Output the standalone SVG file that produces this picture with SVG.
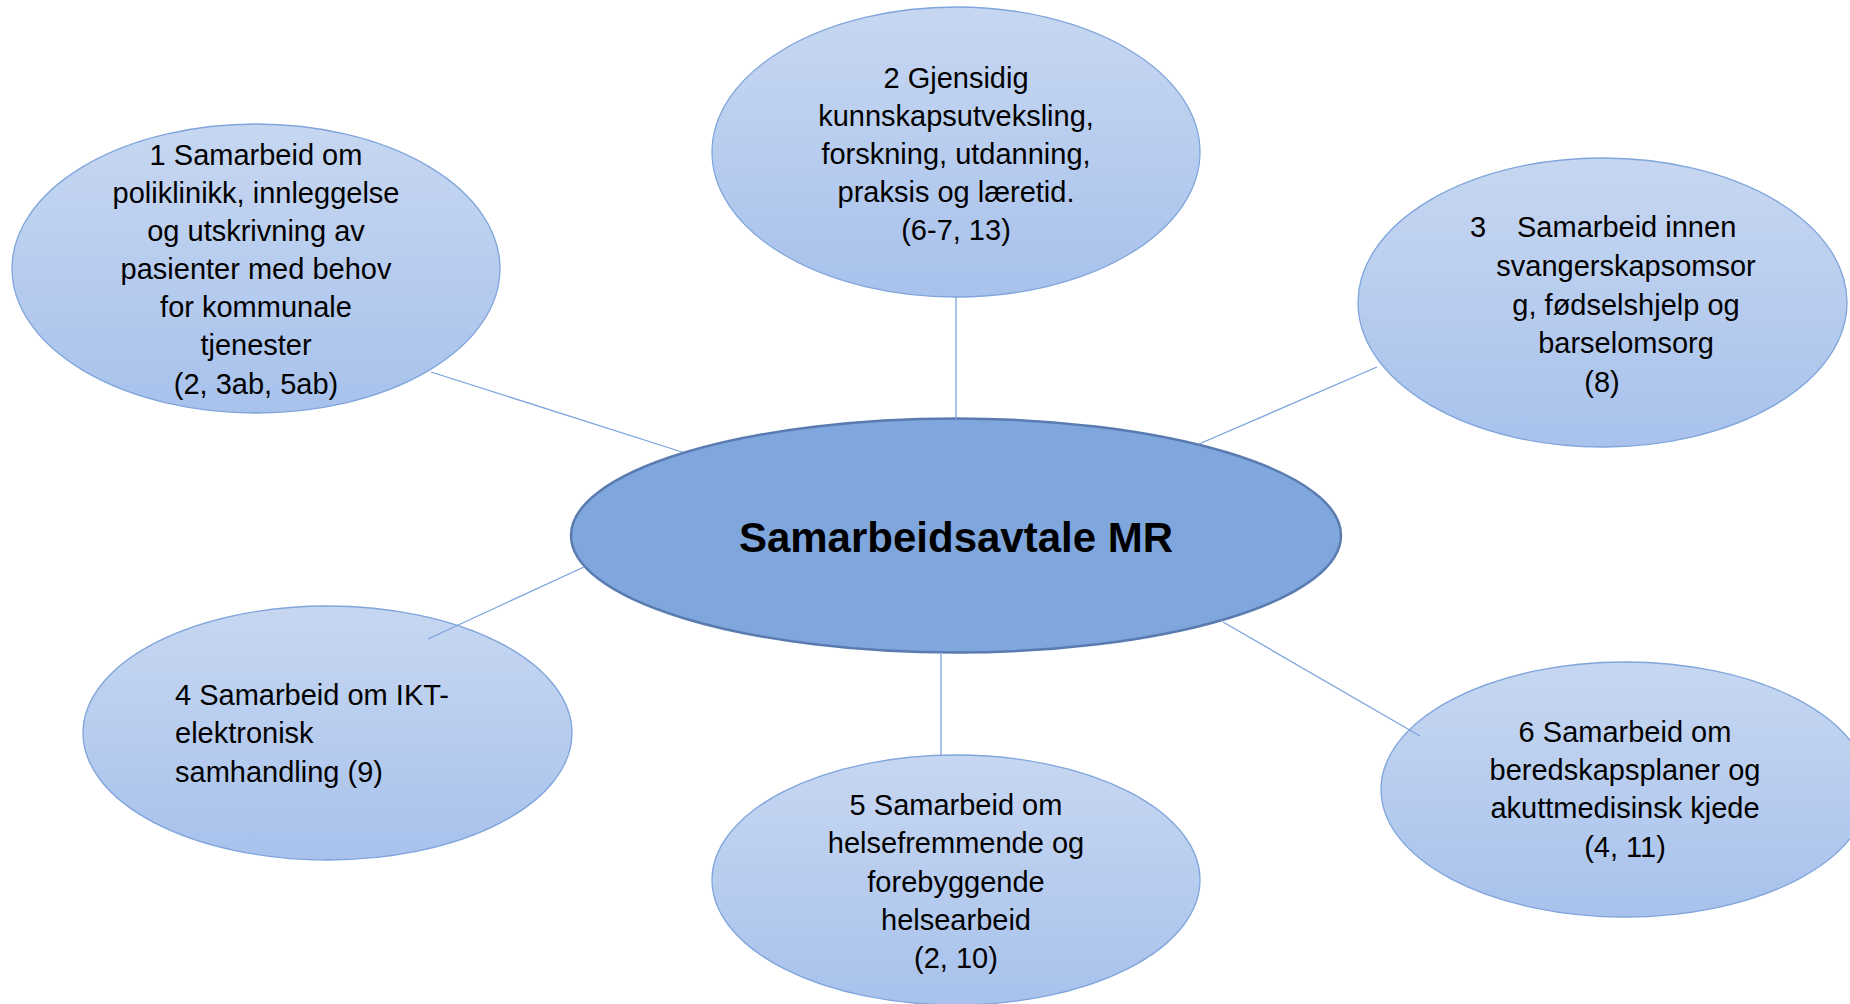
<svg xmlns="http://www.w3.org/2000/svg" width="1850" height="1004" viewBox="0 0 1850 1004">
<defs>
<linearGradient id="g" x1="0" y1="0" x2="0" y2="1">
<stop offset="0" stop-color="#c7d7f1"/>
<stop offset="1" stop-color="#a8c2ec"/>
</linearGradient>
</defs>
<style>
.n{fill:url(#g);stroke:#7fa5dc;stroke-width:1.3}
.c{fill:#7fa7de;stroke:#5a7bb0;stroke-width:2.5}
.t{font-family:"Liberation Sans",Arial,sans-serif;font-size:29px;fill:#000;text-anchor:middle}
.l{text-anchor:start}
.b{font-family:"Liberation Sans",Arial,sans-serif;font-size:42px;font-weight:bold;fill:#000;text-anchor:middle}
.e{stroke:#7ba3dc;stroke-width:1.3;fill:none}
</style>
<rect width="1850" height="1004" fill="#fff"/>
<g id="node1">
<ellipse class="n" cx="256" cy="268.5" rx="244" ry="144.5"/>
<text class="t"><tspan x="256" y="165">1 Samarbeid om</tspan><tspan x="256" y="203">poliklinikk, innleggelse</tspan><tspan x="256" y="241">og utskrivning av</tspan><tspan x="256" y="279">pasienter med behov</tspan><tspan x="256" y="317">for kommunale</tspan><tspan x="256" y="355">tjenester</tspan><tspan x="256" y="394">(2, 3ab, 5ab)</tspan></text>
</g>
<g id="node2">
<ellipse class="n" cx="956" cy="152" rx="244" ry="145"/>
<text class="t"><tspan x="956" y="88">2 Gjensidig</tspan><tspan x="956" y="126">kunnskapsutveksling,</tspan><tspan x="956" y="164">forskning, utdanning,</tspan><tspan x="956" y="202">praksis og læretid.</tspan><tspan x="956" y="240">(6-7, 13)</tspan></text>
</g>
<g id="node3">
<ellipse class="n" cx="1602.5" cy="302.5" rx="244.5" ry="144.5"/>
<text class="t l" x="1470" y="237">3</text>
<text class="t l" x="1517" y="237">Samarbeid innen</text>
<text class="t"><tspan x="1626" y="276">svangerskapsomsor</tspan><tspan x="1626" y="315">g, fødselshjelp og</tspan><tspan x="1626" y="353">barselomsorg</tspan><tspan x="1602" y="392">(8)</tspan></text>
</g>
<g id="center">
<ellipse class="c" cx="956" cy="535.5" rx="385" ry="117"/>
<text class="b" x="956" y="552">Samarbeidsavtale MR</text>
</g>
<g id="node4">
<ellipse class="n" cx="327.5" cy="733" rx="244.5" ry="127"/>
<text class="t l"><tspan x="175" y="705">4 Samarbeid om IKT-</tspan><tspan x="175" y="743">elektronisk</tspan><tspan x="175" y="782">samhandling (9)</tspan></text>
</g>
<g id="node5">
<ellipse class="n" cx="956" cy="880" rx="244" ry="125"/>
<text class="t"><tspan x="956" y="815">5 Samarbeid om</tspan><tspan x="956" y="853">helsefremmende og</tspan><tspan x="956" y="892">forebyggende</tspan><tspan x="956" y="930">helsearbeid</tspan><tspan x="956" y="968">(2, 10)</tspan></text>
</g>
<g id="node6">
<ellipse class="n" cx="1625" cy="789.5" rx="244" ry="127.5"/>
<text class="t"><tspan x="1625" y="742">6 Samarbeid om</tspan><tspan x="1625" y="780">beredskapsplaner og</tspan><tspan x="1625" y="818">akuttmedisinsk kjede</tspan><tspan x="1625" y="857">(4, 11)</tspan></text>
</g>
<g id="connectors">
<line class="e" x1="431" y1="372" x2="682" y2="452"/>
<line class="e" x1="956" y1="297" x2="956" y2="419"/>
<line class="e" x1="1377" y1="367" x2="1199" y2="444"/>
<line class="e" x1="584" y1="567" x2="428" y2="639"/>
<line class="e" x1="941" y1="652" x2="941" y2="755"/>
<line class="e" x1="1223" y1="622" x2="1420" y2="736"/>
</g>
</svg>
